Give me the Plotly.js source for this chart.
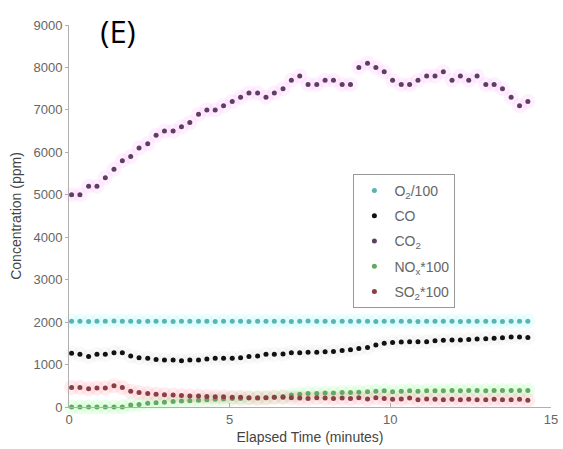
<!DOCTYPE html>
<html>
<head>
<meta charset="utf-8">
<script src="https://cdn.plot.ly/plotly-3.0.1.min.js"></script>
<style>html,body{margin:0;padding:0;background:#fff;}#chart{width:563px;height:449px;}</style>
</head>
<body>
<div id="chart"></div>
<script>
// Elapsed time (minutes)
const time = [0.08,0.34,0.61,0.87,1.13,1.40,1.66,1.92,2.18,2.45,2.71,2.97,3.24,3.50,3.76,4.03,4.29,4.55,4.81,5.08,
  5.34,5.60,5.87,6.13,6.39,6.66,6.92,7.18,7.44,7.71,7.97,8.23,8.50,8.76,9.02,9.29,9.55,9.81,10.07,10.34,
  10.60,10.86,11.13,11.39,11.65,11.92,12.18,12.44,12.70,12.97,13.23,13.49,13.76,14.02,14.28];

// O2/100 (ppm)
const o2 = [2020,2020,2015,2020,2020,2025,2020,2020,2015,2020,2020,2020,2015,2020,2020,2020,2020,2015,2020,2020,
  2020,2015,2020,2020,2020,2020,2015,2020,2025,2020,2020,2015,2020,2020,2020,2020,2015,2020,2020,2020,
  2020,2015,2020,2020,2020,2020,2015,2020,2020,2020,2020,2015,2020,2020,2020];

// CO (ppm)
const co = [1265,1240,1190,1240,1240,1280,1280,1200,1160,1150,1120,1110,1110,1090,1110,1110,1130,1150,1150,1150,
  1160,1190,1200,1240,1240,1250,1280,1280,1290,1290,1300,1310,1330,1350,1380,1400,1460,1500,1520,1530,
  1540,1540,1540,1560,1570,1580,1580,1590,1600,1610,1620,1630,1650,1650,1640];

// CO2 (ppm)
const co2 = [5000,5000,5200,5200,5400,5600,5800,5900,6100,6200,6400,6500,6500,6600,6700,6900,7000,7000,7100,
  7200,7300,7400,7400,7300,7400,7500,7700,7800,7600,7600,7700,7700,7600,7600,8000,8100,8000,7900,
  7700,7600,7600,7700,7800,7800,7900,7700,7800,7700,7800,7600,7600,7500,7300,7100,7200];

// NOx*100 (ppm)
const nox = [0,0,0,0,0,0,0,50,60,90,100,110,130,140,150,160,170,180,190,200,
  200,210,220,220,230,250,280,300,320,320,330,330,340,340,350,360,370,380,360,370,
  380,370,380,380,380,390,380,390,390,380,390,390,390,390,390];

// SO2*100 (ppm)
const so2 = [460,460,430,450,450,500,460,370,340,320,300,290,280,270,260,260,250,240,240,230,
  230,220,210,220,230,230,220,210,200,220,210,200,210,200,220,190,220,200,180,190,
  210,170,190,180,170,180,170,180,170,170,180,170,170,180,160];

const names = ['O<sub>2</sub>/100','CO','CO<sub>2</sub>','NO<sub>x</sub>*100','SO<sub>2</sub>*100'];
const series = [o2, co, co2, nox, so2];
const dotColors = ['#5cb3b5','#111111','#5e3f63','#63a863','#8a3f44'];
const haloColors = ['rgba(170,250,250,0.22)','rgba(200,200,200,0.10)','rgba(255,160,255,0.16)','rgba(170,250,170,0.22)','rgba(255,170,180,0.22)'];

const traces = [];
series.forEach((s, i) => {
  traces.push({x: time, y: s, type: 'scatter', mode: 'markers', showlegend: false, hoverinfo: 'skip',
    cliponaxis: false, marker: {size: 15, color: haloColors[i], line: {width: 0}}});
});
series.forEach((s, i) => {
  traces.push({x: time, y: s, type: 'scatter', mode: 'markers', name: names[i], legendgroup: 'g' + i,
    cliponaxis: false, marker: {size: 5, color: dotColors[i], line: {width: 0}}});
});

const layout = {
  width: 563, height: 449,
  margin: {l: 69, r: 12, t: 25, b: 42},
  paper_bgcolor: '#ffffff', plot_bgcolor: '#ffffff',
  font: {family: 'Liberation Sans, Arial, sans-serif', color: '#666', size: 13},
  title: {text: '(E)', x: 118/563, xanchor: 'center', xref: 'container', y: 1 - 32/449, yanchor: 'middle', yref: 'container',
    font: {family: 'Open Sans, Noto Sans, sans-serif', size: 31, color: '#000'}},
  xaxis: {range: [0, 15], tickvals: [0, 5, 10, 15], showgrid: false, zeroline: false,
    showline: true, linecolor: '#b0b0b0', linewidth: 1, ticks: 'inside', ticklen: 4, tickcolor: '#b0b0b0',
    tickfont: {size: 13, color: '#666'},
    title: {text: 'Elapsed Time (minutes)', font: {size: 14, color: '#444'}, standoff: 6}},
  yaxis: {range: [0, 9000], dtick: 1000, showgrid: false, zeroline: false,
    showline: true, linecolor: '#b0b0b0', linewidth: 1, ticks: 'outside', ticklen: 3, tickcolor: '#b0b0b0',
    tickfont: {size: 13, color: '#666'},
    title: {text: 'Concentration (ppm)', font: {size: 14, color: '#444'}, standoff: 8}},
  legend: {x: 0.59, y: 0.61, xanchor: 'left', yanchor: 'top', bgcolor: '#ffffff',
    bordercolor: '#999', borderwidth: 1, font: {size: 14, color: '#666'}, tracegroupgap: 4, itemwidth: 30},
  showlegend: true
};

Plotly.newPlot('chart', traces, layout, {displayModeBar: false, staticPlot: true});
</script>
</body>
</html>
